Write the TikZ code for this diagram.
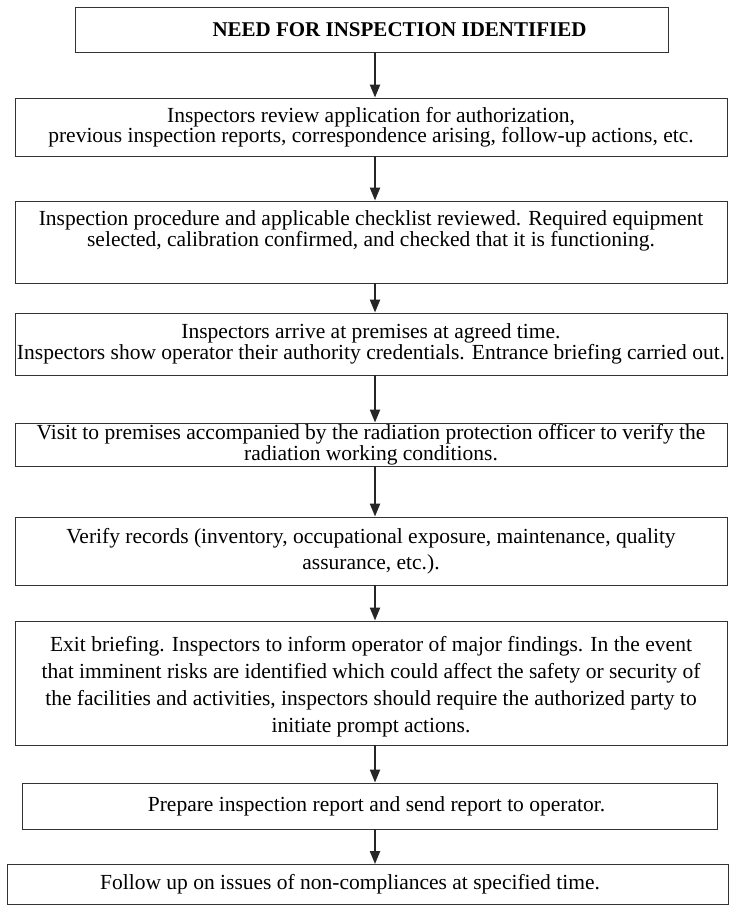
\documentclass[tikz,border=0pt]{standalone}
\usepackage{fontspec}
\setmainfont{Liberation Serif}
\usetikzlibrary{arrows.meta}
\tikzset{
  stepbox/.style={draw=black!80, line width=0.9pt, inner sep=1pt, align=center,
    font=\fontsize{21.5}{21}\selectfont, text=black},
  arr/.style={line width=2.2pt, draw=black!85, -{Triangle[length=13pt,width=10pt]}}
}
\begin{document}
\begin{tikzpicture}[x=1pt,y=-1pt]
\useasboundingbox (0,0) rectangle (730,906);
\coordinate (ax) at (375,0);
\node[stepbox, minimum width=593, minimum height=45, font=\bfseries\fontsize{21}{21}\selectfont] (b1) at (371.5,29.5) {\hspace*{56pt}NEED FOR INSPECTION IDENTIFIED};
\node[stepbox, minimum width=712, minimum height=58, font=\fontsize{21.5}{20}\selectfont] (b2) at (371,127) {Inspectors review application for authorization,\\previous inspection reports, correspondence arising, follow-up actions, etc.};
\node[stepbox, minimum width=712, minimum height=82] (b3) at (371,242) {};
\node[align=center, font=\fontsize{21.5}{21}\selectfont] (t3) at (371,231) {Inspection procedure and applicable checklist reviewed. Required equipment\\selected, calibration confirmed, and checked that it is functioning.};
\node[stepbox, minimum width=712, minimum height=62, font=\fontsize{21.5}{19.5}\selectfont] (b4) at (371,344) {Inspectors arrive at premises at agreed time.\\Inspectors show operator their authority credentials. Entrance briefing carried out.};
\node[stepbox, minimum width=712, minimum height=43, font=\fontsize{21.5}{18}\selectfont] (b5) at (371,444.5) {Visit to premises accompanied by the radiation protection officer to verify the\\radiation working conditions.};
\node[stepbox, minimum width=712, minimum height=68, font=\fontsize{21.5}{26}\selectfont] (b6) at (371,551) {Verify records (inventory, occupational exposure, maintenance, quality\\assurance, etc.).};
\node[stepbox, minimum width=712, minimum height=124] (b7) at (371,683) {};
\node[align=center, font=\fontsize{21.5}{27}\selectfont] (t7) at (371,687) {Exit briefing. Inspectors to inform operator of major findings. In the event\\that imminent risks are identified which could affect the safety or security of\\the facilities and activities, inspectors should require the authorized party to\\initiate prompt actions.};
\node[stepbox, minimum width=695, minimum height=46] (b8) at (369.5,806) {\hspace*{14pt}Prepare inspection report and send report to operator.};
\node[stepbox, minimum width=721, minimum height=40] (b9) at (368,884.5) {\hspace*{-36pt}\raisebox{-4pt}{Follow up on issues of non-compliances at specified time.}};
\draw[arr] (b1.south -| ax) -- (b2.north -| ax);
\draw[arr] (b2.south -| ax) -- (b3.north -| ax);
\draw[arr] (b3.south -| ax) -- (b4.north -| ax);
\draw[arr] (b4.south -| ax) -- (b5.north -| ax);
\draw[arr] (b5.south -| ax) -- (b6.north -| ax);
\draw[arr] (b6.south -| ax) -- (b7.north -| ax);
\draw[arr] (b7.south -| ax) -- (b8.north -| ax);
\draw[arr] (b8.south -| ax) -- (b9.north -| ax);
\end{tikzpicture}
\end{document}
